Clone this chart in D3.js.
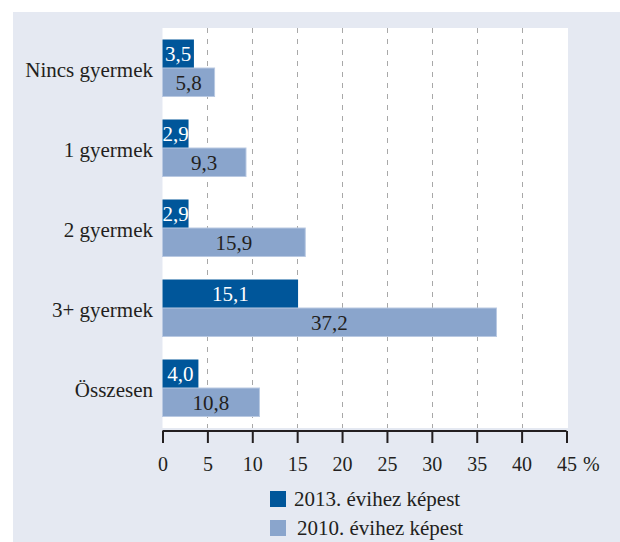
<!DOCTYPE html>
<html>
<head>
<meta charset="utf-8">
<script src="https://d3js.org/d3.v7.min.js"></script>
<style>
  body { margin: 0; background: #fff; }
</style>
</head>
<body>
<div class="chart"></div>
<script>
// adatok
var categories = ["Nincs gyermek", "1 gyermek", "2 gyermek", "3+ gyermek", "Összesen"];
var series = ["2013. évihez képest", "2010. évihez képest"];
var v2013 = [3.5, 2.9, 2.9, 15.1, 4.0];
var v2010 = [5.8, 9.3, 15.9, 37.2, 10.8];
var ticks = [0, 5, 10, 15, 20, 25, 30, 35, 40, 45];
var colors = ["#00569a", "#8aa5cc"];

var w = 620, h = 542;
var mLeft = 162.5, mRight = 566.5, mTop = 28, mBottom = 428;
var font = "'Liberation Serif', 'Times New Roman', serif";

var rows = categories.map(function(c, i) {
  return { cat: c, vals: [v2013[i], v2010[i]] };
});

var svg = d3.select("div.chart").append("svg")
  .attr("width", w).attr("height", h)
  .attr("font-family", font);

// háttér
svg.append("rect").attr("x", 13).attr("y", 12).attr("width", w - 13).attr("height", h - 12)
  .attr("fill", "#e5e9f2");
svg.append("rect").attr("x", mLeft).attr("y", mTop).attr("width", 568 - mLeft).attr("height", mBottom - mTop)
  .attr("fill", "#fff");

var x = d3.scaleLinear().domain([0, 45]).range([mLeft, mRight]);
var y0 = d3.scaleBand().domain(categories).range([mTop, mBottom])
  .paddingInner(0.2875).paddingOuter(0.14375);
var y1 = d3.scaleBand().domain(series).range([0, y0.bandwidth()]);

// rácsvonalak
svg.append("g").selectAll("line")
  .data(ticks.filter(function(t) { return t > 0 && t < 45; }))
  .enter().append("line")
  .attr("x1", function(d) { return Math.round(x(d)) + 0.5; })
  .attr("x2", function(d) { return Math.round(x(d)) + 0.5; })
  .attr("y1", mTop).attr("y2", mBottom)
  .attr("stroke", "#a8a8a8").attr("stroke-width", 1)
  .attr("stroke-dasharray", "5,6");

// oszlopok
var g = svg.append("g").selectAll("g")
  .data(rows).enter().append("g")
  .attr("transform", function(d) { return "translate(0," + y0(d.cat) + ")"; });

g.selectAll("rect")
  .data(function(d) { return d.vals; })
  .enter().append("rect")
  .attr("x", x(0))
  .attr("y", function(d, i) { return y1(series[i]); })
  .attr("width", function(d) { return x(d) - x(0); })
  .attr("height", y1.bandwidth())
  .attr("fill", function(d, i) { return colors[i]; })
  .attr("stroke", function(d, i) { return i == 1 ? "#b9c9e2" : "none"; })
  .attr("stroke-width", 1);

g.selectAll("text")
  .data(function(d) { return d.vals; })
  .enter().append("text")
  .attr("text-anchor", "middle")
  .attr("x", function(d) { return (x(0) + x(d)) / 2; })
  .attr("y", function(d, i) { return y1(series[i]) + y1.bandwidth() / 2; })
  .attr("dy", "0.35em")
  .attr("font-size", "21px")
  .attr("fill", function(d, i) { return i == 0 ? "#fff" : "#231f20"; })
  .text(function(d) { return d.toFixed(1).replace(".", ","); });

// kategóriák
svg.append("g").selectAll("text")
  .data(categories).enter().append("text")
  .attr("text-anchor", "end")
  .attr("x", 153)
  .attr("y", function(d) { return y0(d) + y0.bandwidth() / 2 + 9; })
  .attr("font-size", "21px")
  .attr("fill", "#231f20")
  .text(function(d) { return d; });

// tengely
var xAxis = d3.axisBottom(x).tickValues(ticks).tickSize(12).tickPadding(14)
  .tickFormat(function(d) { return d; });
var ax = svg.append("g").attr("transform", "translate(0,431)").call(xAxis);
ax.attr("font-family", font);
ax.select(".domain").attr("stroke", "#231f20").attr("stroke-width", 2)
  .attr("d", "M" + x(0) + ",0H" + x(45));
ax.selectAll(".tick line").attr("stroke", "#231f20").attr("stroke-width", 2);
ax.selectAll(".tick text").attr("font-size", "20px").attr("fill", "#231f20");
svg.append("text").attr("x", 583).attr("y", 471).attr("font-size", "20px")
  .attr("fill", "#231f20").text("%");

// jelmagyarázat
var leg = svg.append("g").selectAll("g")
  .data(series).enter().append("g")
  .attr("transform", function(d, i) { return "translate(270," + (491 + i * 29) + ")"; });
leg.append("rect").attr("width", 16).attr("height", 16)
  .attr("fill", function(d, i) { return colors[i]; });
leg.append("text").attr("x", function(d, i) { return i == 0 ? 24 : 27; }).attr("y", 15)
  .attr("font-size", "21px").attr("fill", "#231f20")
  .text(function(d) { return d; });
</script>
</body>
</html>
